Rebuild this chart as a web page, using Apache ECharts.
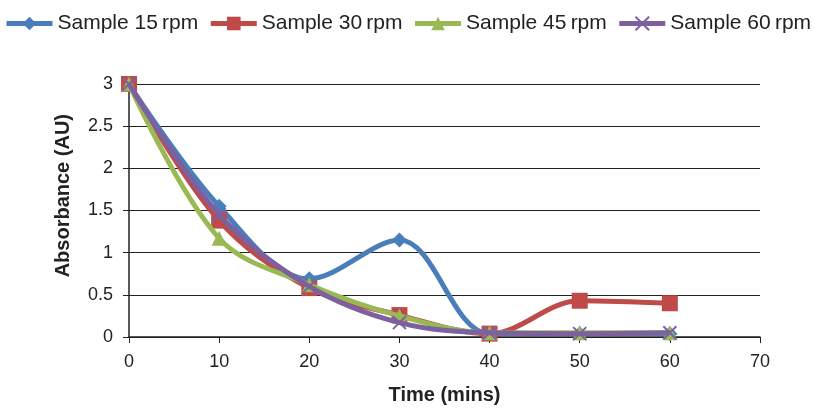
<!DOCTYPE html>
<html><head><meta charset="utf-8">
<script src="https://cdn.jsdelivr.net/npm/echarts@6/dist/echarts.min.js"></script>
<style>html,body{margin:0;padding:0;background:#fff}#c{width:815px;height:408px}</style>
</head><body><div id="c"></div>
<script>
const times = [0, 10, 20, 30, 40, 50, 60];
const seriesNames = ['Sample 15\u2009rpm', 'Sample 30\u2009rpm', 'Sample 45\u2009rpm', 'Sample 60\u2009rpm'];
const s15 = [3.0, 1.55, 0.69, 1.15, 0.04, 0.04, 0.04];
const s30 = [3.0, 1.38, 0.58, 0.26, 0.04, 0.43, 0.40];
const s45 = [3.0, 1.17, 0.62, 0.25, 0.05, 0.05, 0.05];
const s60 = [3.0, 1.45, 0.60, 0.17, 0.05, 0.04, 0.05];
const yTicks = ['0', '0.5', '1', '1.5', '2', '2.5', '3'];
const xTitle = 'Time (mins)';
const yTitle = 'Absorbance (AU)';

const colors = ['#4a7ebb', '#be4b48', '#98b954', '#7d60a0'];
const symbols = ['diamond', 'rect', 'triangle', 'path://M0,0L2,2M2,0L0,2'];
const allData = [s15, s30, s45, s60];

const chart = echarts.init(document.getElementById('c'));
chart.setOption({
  animation: false,
  textStyle: { fontFamily: 'Liberation Sans, Arial, sans-serif' },
  legend: {
    top: 13, left: 4, width: 811, padding: 0, itemGap: 10, itemWidth: 46, itemHeight: 17,
    textStyle: { fontSize: 21, color: '#222' },
    lineStyle: { width: 5 },
    data: seriesNames
  },
  grid: { left: 129, right: 55, top: 84, bottom: 71, outerBoundsMode: 'none', containLabel: false },
  graphic: [{
    type: 'text', left: 53, top: 114, rotation: Math.PI / 2,
    style: { text: yTitle, font: 'bold 20px "Liberation Sans", Arial, sans-serif', fill: '#222' }
  }],
  xAxis: {
    type: 'value', min: 0, max: 70, interval: 10,
    name: xTitle, nameLocation: 'middle', nameGap: 48,
    nameTextStyle: { fontSize: 20, fontWeight: 'bold', color: '#222' },
    axisLine: { lineStyle: { color: '#222', width: 1.5 } },
    axisTick: { show: true, length: 6, lineStyle: { color: '#222' } },
    axisLabel: { fontSize: 18, color: '#222', margin: 16 },
    splitLine: { show: false }
  },
  yAxis: {
    type: 'value', min: 0, max: 3, interval: 0.5,
    axisLine: { show: true, lineStyle: { color: '#222', width: 1.5 } },
    axisTick: { show: true, length: 6, lineStyle: { color: '#222' } },
    axisLabel: { fontSize: 18, color: '#222', margin: 16, formatter: v => yTicks[Math.round(v * 2)] },
    splitLine: { show: true, lineStyle: { color: '#222', width: 1.2 } }
  },
  series: allData.map((d, i) => ({
    name: seriesNames[i],
    type: 'line',
    smooth: 0.35,
    data: d.map((v, j) => [times[j], v]),
    symbol: symbols[i],
    symbolSize: i === 3 ? 13 : (i === 1 ? 16 : 15),
    lineStyle: { color: colors[i], width: 5 },
    itemStyle: i === 3 ? { color: colors[i], borderColor: colors[i], borderWidth: 2 } : { color: colors[i] },
    z: 2 + i
  }))
});
</script></body></html>
